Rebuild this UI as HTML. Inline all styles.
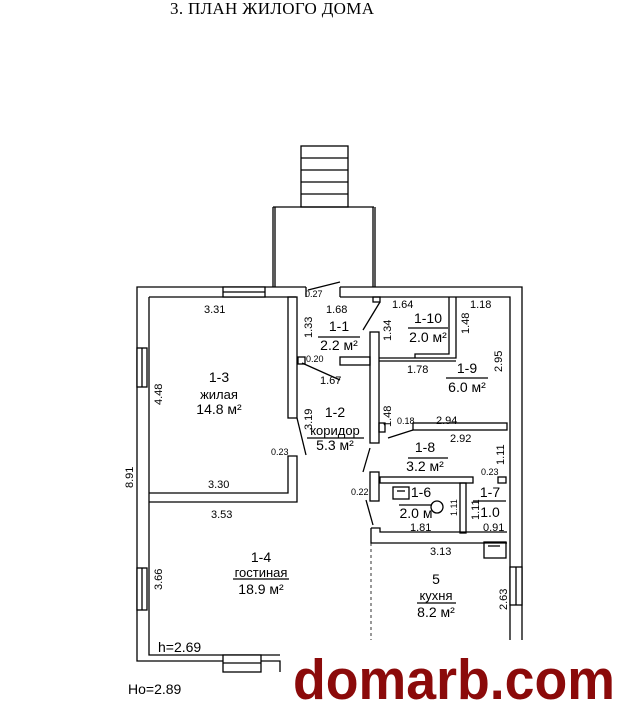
<!DOCTYPE html>
<html><head><meta charset="utf-8"><style>
html,body{margin:0;padding:0;background:#fff}
svg{display:block}
text{font-family:"Liberation Sans",Arial,sans-serif;fill:#000}
</style></head><body>
<svg width="630" height="723" viewBox="0 0 630 723" xmlns="http://www.w3.org/2000/svg">
<rect width="630" height="723" fill="#fff"/>
<text x="272" y="14" text-anchor="middle" textLength="204" style="font-family:'Liberation Serif',serif;font-size:17px">3. ПЛАН ЖИЛОГО ДОМА</text>
<g fill="none" stroke="#000" stroke-width="1.3">
<rect x="301" y="146" width="47" height="61"/>
<line x1="301" y1="158" x2="348" y2="158"/><line x1="301" y1="170" x2="348" y2="170"/>
<line x1="301" y1="182" x2="348" y2="182"/><line x1="301" y1="194" x2="348" y2="194"/>
<line x1="273" y1="207" x2="374" y2="207"/>
<line x1="273" y1="207" x2="273" y2="287"/><line x1="275" y1="207" x2="275" y2="287"/>
<line x1="373" y1="207" x2="373" y2="287"/><line x1="375" y1="207" x2="375" y2="287"/>
<path d="M306 287 H137 V661 H280 V672"/>
<path d="M149 297 H296"/>
<path d="M149 297 V655 H280"/>
<path d="M340 287 H522 V640"/>
<path d="M340 297 H510 V640"/>
<path d="M306 287 V297 M340 287 V297"/>
<rect x="223" y="287" width="42" height="10" fill="#fff"/><line x1="223" y1="292" x2="265" y2="292"/>
<rect x="137" y="348" width="10" height="39" fill="#fff"/><line x1="142" y1="348" x2="142" y2="387"/>
<rect x="137" y="568" width="10" height="42" fill="#fff"/><line x1="142" y1="568" x2="142" y2="610"/>
<rect x="510" y="567" width="12" height="38" fill="#fff"/><line x1="516" y1="567" x2="516" y2="605"/>
<rect x="223" y="655" width="38" height="17" fill="#fff"/><line x1="223" y1="663" x2="261" y2="663"/>
<rect x="288" y="297" width="9" height="121"/>
<path d="M149 493 H288 V456 H297 V502 H149"/>
<rect x="370" y="332" width="9" height="111"/>
<rect x="340" y="357" width="30" height="8"/>
<rect x="298" y="357" width="7" height="7"/>
<rect x="373" y="297" width="7" height="5"/>
<path d="M379 358 H456 V297 M379 361 H456 M449 297 V354 H415 V358"/>
<rect x="413" y="423" width="94" height="7"/>
<rect x="379" y="423" width="6" height="9"/>
<rect x="370" y="472" width="9" height="29"/>
<rect x="380" y="477" width="93" height="6"/>
<rect x="498" y="477" width="8" height="6"/>
<path d="M371 528 H380 V532 H507 M371 528 V543 H507"/>
<rect x="460" y="483" width="6" height="50"/>
<line x1="371" y1="543" x2="371" y2="640" stroke-dasharray="3,3" stroke-width="0.8"/>
<line x1="308" y1="290" x2="340" y2="282"/>
<line x1="302" y1="363" x2="340" y2="380"/>
<line x1="297" y1="418" x2="306" y2="455"/>
<line x1="380" y1="302" x2="363" y2="330"/>
<line x1="388" y1="438" x2="413" y2="430"/>
<line x1="370" y1="448" x2="363" y2="472"/>
<line x1="366" y1="500" x2="373" y2="525"/>
<rect x="393" y="487" width="16" height="12"/><line x1="397" y1="491" x2="405" y2="491"/>
<circle cx="437" cy="507" r="6"/>
<rect x="484" y="542" width="22" height="16"/><line x1="488" y1="546" x2="500" y2="546"/>
<line x1="318" y1="337" x2="360" y2="337"/>
<line x1="408" y1="328" x2="448" y2="328"/>
<line x1="446" y1="378" x2="488" y2="378"/>
<line x1="307" y1="438" x2="364" y2="438"/>
<line x1="408" y1="458" x2="448" y2="458"/>
<line x1="399" y1="505" x2="432" y2="505"/>
<line x1="473" y1="501" x2="506" y2="501"/>
<line x1="233" y1="579" x2="289" y2="579"/>
<line x1="417" y1="603" x2="456" y2="603"/>
</g>
<g font-size="11px">
<text x="204" y="313">3.31</text>
<text x="305" y="297" font-size="9">0.27</text>
<text x="326" y="313">1.68</text>
<text x="392" y="308">1.64</text>
<text x="470" y="308">1.18</text>
<text x="306" y="362" font-size="9">0.20</text>
<text x="320" y="384">1.67</text>
<text x="407" y="373">1.78</text>
<text x="397" y="424" font-size="9">0.18</text>
<text x="436" y="424">2.94</text>
<text x="450" y="442">2.92</text>
<text x="271" y="455" font-size="9">0.23</text>
<text x="208" y="488">3.30</text>
<text x="211" y="518">3.53</text>
<text x="481" y="475" font-size="9">0.23</text>
<text x="351" y="495" font-size="9">0.22</text>
<text x="410" y="531">1.81</text>
<text x="483" y="531">0.91</text>
<text x="430" y="555">3.13</text>
<text transform="translate(162,405) rotate(-90)">4.48</text>
<text transform="translate(133,488) rotate(-90)">8.91</text>
<text transform="translate(162,590) rotate(-90)">3.66</text>
<text transform="translate(312,338) rotate(-90)">1.33</text>
<text transform="translate(312,430) rotate(-90)">3.19</text>
<text transform="translate(391,341) rotate(-90)">1.34</text>
<text transform="translate(391,427) rotate(-90)">1.48</text>
<text transform="translate(469,334) rotate(-90)">1.48</text>
<text transform="translate(502,372) rotate(-90)">2.95</text>
<text transform="translate(504,465) rotate(-90)">1.11</text>
<text transform="translate(479,520) rotate(-90)">1.11</text>
<text transform="translate(507,610) rotate(-90)">2.63</text>
<text transform="translate(457,516) rotate(-90)" font-size="9">1.11</text>
</g>
<g font-size="14px" text-anchor="middle">
<text x="339" y="331">1-1</text><text x="339" y="350">2.2 м²</text>
<text x="428" y="323">1-10</text><text x="428" y="342">2.0 м²</text>
<text x="467" y="373">1-9</text><text x="467" y="392">6.0 м²</text>
<text x="219" y="382">1-3</text><text x="219" y="399" font-size="13">жилая</text><text x="219" y="414">14.8 м²</text>
<text x="335" y="417">1-2</text><text x="335" y="435" font-size="13">коридор</text><text x="335" y="450">5.3 м²</text>
<text x="425" y="452">1-8</text><text x="425" y="471">3.2 м²</text>
<text x="421" y="497">1-6</text><text x="416" y="518">2.0 м</text>
<text x="490" y="497">1-7</text><text x="490" y="517">1.0</text>
<text x="261" y="562">1-4</text><text x="261" y="577" font-size="13">гостиная</text><text x="261" y="594">18.9 м²</text>
<text x="436" y="584">5</text><text x="436" y="600" font-size="13">кухня</text><text x="436" y="617">8.2 м²</text>
</g>
<text x="158" y="652" font-size="14px">h=2.69</text>
<text x="128" y="694" font-size="14px">Ho=2.89</text>
<rect x="283" y="642" width="347" height="81" fill="#fff"/>
<text x="293" y="699" textLength="322" lengthAdjust="spacingAndGlyphs" style="font-family:'Liberation Sans',Arial,sans-serif;font-weight:bold;font-size:57px;fill:#8b0a0a">domarb.com</text>
</svg>
</body></html>
